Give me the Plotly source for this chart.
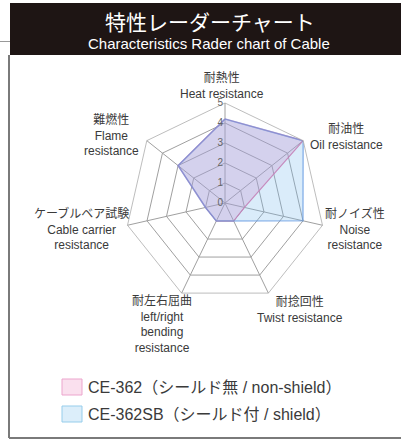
import plotly.graph_objects as go

W, H = 401, 443

categories = ["耐熱性<br>Heat resistance",
              "耐油性<br>Oil resistance",
              "耐ノイズ性<br>Noise<br>resistance",
              "耐捻回性<br>Twist resistance",
              "耐左右屈曲<br>left/right<br>bending<br>resistance",
              "ケーブルベア試験<br>Cable carrier<br>resistance",
              "難燃性<br>Flame<br>resistance"]
series_names = ["CE-362（シールド無 / non-shield）", "CE-362SB（シールド付 / shield）"]
ce362 = [4.2, 5, 1, 1, 1, 1, 3]
ce362sb = [4.2, 5, 4, 1, 1, 1, 3]
radial_ticks = [0, 1, 2, 3, 4, 5]
title_jp = "特性レーダーチャート"
title_en = "Characteristics Rader chart of Cable"

FONT = "Liberation Sans, Arial, Noto Sans CJK JP, sans-serif"

fig = go.Figure()
fig.add_trace(go.Scatterpolar(
    r=ce362 + ce362[:1], theta=categories + categories[:1], name=series_names[0],
    mode="lines", fill="toself",
    fillcolor="rgba(225,125,190,0.28)",
    line=dict(color="rgba(225,110,165,0.9)", width=1.2),
    showlegend=False, hoverinfo="skip"))
fig.add_trace(go.Scatterpolar(
    r=ce362sb + ce362sb[:1], theta=categories + categories[:1], name=series_names[1],
    mode="lines", fill="toself",
    fillcolor="rgba(120,185,235,0.27)",
    line=dict(color="rgba(95,150,225,0.6)", width=1.6),
    showlegend=False, hoverinfo="skip"))

cx, cy, R = 225, 203, 100
fig.update_layout(
    width=W, height=H, margin=dict(l=0, r=0, t=0, b=0),
    paper_bgcolor="white", plot_bgcolor="white",
    font=dict(family=FONT, color="#333"),
    polar=dict(
        domain=dict(x=[(cx - R) / W, (cx + R) / W], y=[1 - (cy + R) / H, 1 - (cy - R) / H]),
        bgcolor="rgba(0,0,0,0)",
        gridshape="linear",
        angularaxis=dict(rotation=90, direction="clockwise", categoryorder="array",
                         categoryarray=categories, showticklabels=False, ticks="",
                         showline=True, linecolor="#a0a0a0", linewidth=0.7,
                         gridcolor="#a0a0a0", gridwidth=0.7),
        radialaxis=dict(range=[0, 5], tickvals=radial_ticks, ticktext=[str(t) for t in radial_ticks],
                        angle=90, tickangle=90, side="counterclockwise", ticks="",
                        showline=False, gridcolor="#a0a0a0", gridwidth=0.7,
                        tickfont=dict(size=10, color="#666")),
    ),
)

shapes = []
# title bar
shapes.append(dict(type="rect", xref="paper", yref="paper", x0=10 / W, x1=1, y0=1 - 55 / H, y1=1 - 3 / H,
                   fillcolor="#1e1514", line=dict(width=0), layer="below"))
# frame
shapes.append(dict(type="line", xref="paper", yref="paper", x0=9 / W, x1=9 / W, y0=1 - 438 / H, y1=1 - 55 / H,
                   line=dict(color="#7a7a7a", width=2)))
shapes.append(dict(type="line", xref="paper", yref="paper", x0=9 / W, x1=1, y0=1 - 438 / H, y1=1 - 438 / H,
                   line=dict(color="#7a7a7a", width=2)))
shapes.append(dict(type="line", xref="paper", yref="paper", x0=0, x1=10 / W, y0=1 - 41.5 / H, y1=1 - 41.5 / H,
                   line=dict(color="#999", width=1)))
# legend swatches
sw = [("rgb(250,224,238)", "rgb(236,165,205)", 379, 395), ("rgb(220,238,250)", "rgb(150,205,235)", 406, 422)]
for fc, lc, y0, y1 in sw:
    shapes.append(dict(type="rect", xref="paper", yref="paper", x0=62 / W, x1=82 / W, y0=1 - y1 / H, y1=1 - y0 / H,
                       fillcolor=fc, line=dict(color=lc, width=1)))
fig.update_layout(shapes=shapes)

ann = []
ann.append(dict(text=title_jp, x=210 / W, y=1 - 21 / H, xref="paper", yref="paper", showarrow=False,
                font=dict(size=21, color="white", family="Noto Sans CJK JP"), xanchor="center", yanchor="middle"))
ann.append(dict(text=title_en, x=209 / W, y=1 - 43.5 / H, xref="paper", yref="paper", showarrow=False,
                font=dict(size=15, color="white", family=FONT), xanchor="center", yanchor="middle"))
label_pos = [(222, 86), (346, 137), (355, 228.5), (300, 309.5), (162, 323.5), (81, 228.5), (111, 135)]
for lab, (px, py) in zip(categories, label_pos):
    ann.append(dict(text=lab, x=px / W, y=1 - py / H, xref="paper", yref="paper", showarrow=False,
                    font=dict(size=12, color="#3a3a3a", family=FONT), xanchor="center", yanchor="middle",
                    align="center"))
for name, yc in zip(series_names, [387, 414]):
    ann.append(dict(text=name, x=86 / W, y=1 - yc / H, xref="paper", yref="paper", showarrow=False,
                    font=dict(size=16, color="#3a3a3a", family=FONT), xanchor="left", yanchor="middle"))
fig.update_layout(annotations=ann)

fig.write_html("out.html", post_script="document.body.style.margin='0';",
               config=dict(displayModeBar=False))
